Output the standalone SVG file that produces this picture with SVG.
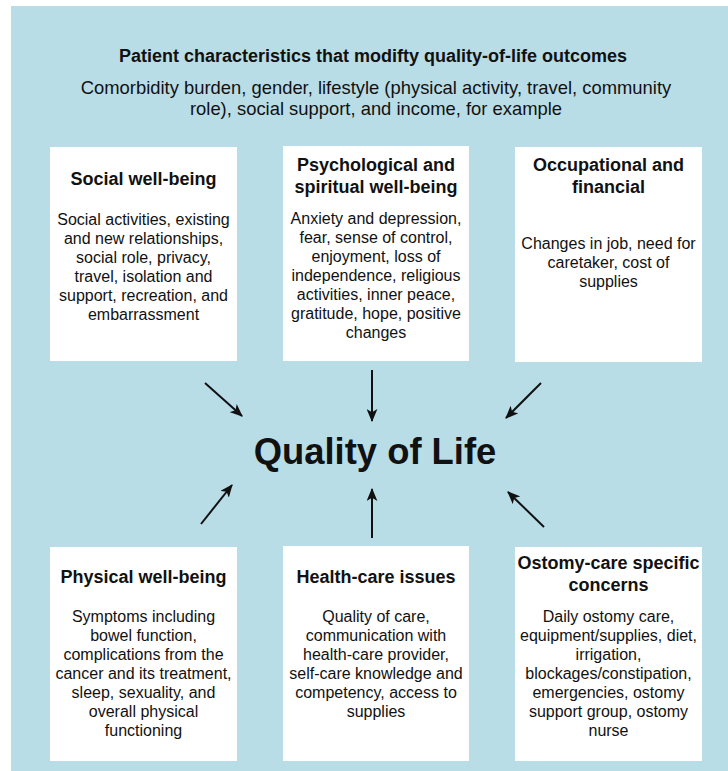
<svg xmlns="http://www.w3.org/2000/svg" width="728" height="771" viewBox="0 0 728 771">
  <defs>
    <style>
      .bg { fill: #b9dde7; }
      .box { fill: #ffffff; }
      text { font-family: "Liberation Sans", Arial, Helvetica, sans-serif; fill: #111111; text-anchor: middle; }
      .head { font-size: 18px; font-weight: bold; }
      .sub { font-size: 18.4px; }
      .ttl { font-size: 18px; font-weight: bold; }
      .body { font-size: 16px; }
      .qol { font-size: 36.4px; font-weight: bold; }
      .arrow { stroke: #111111; stroke-width: 2; fill: none; marker-end: url(#head); }
    </style>
    <marker id="head" viewBox="0 0 12 10" refX="11" refY="5" markerWidth="6.5" markerHeight="5.5" orient="auto" markerUnits="strokeWidth">
      <path d="M0,0 L12,5 L0,10 L3,5 Z" fill="#111111"/>
    </marker>
  </defs>

  <rect width="728" height="771" fill="#ffffff"/>
  <rect class="bg" x="11" y="6" width="717" height="765"/>

  <g id="header">
    <text class="head" x="373" y="62">Patient characteristics that modifty quality-of-life outcomes</text>
    <text class="sub" x="376" y="94">Comorbidity burden, gender, lifestyle (physical activity, travel, community</text>
    <text class="sub" x="376" y="115">role), social support, and income, for example</text>
  </g>

  <g id="social">
    <rect class="box" x="50" y="147" width="187" height="214"/>
    <text class="ttl" x="143.5" y="185">Social well-being</text>
    <text class="body" x="143.5" y="225">Social activities, existing</text>
    <text class="body" x="143.5" y="244">and new relationships,</text>
    <text class="body" x="143.5" y="263">social role, privacy,</text>
    <text class="body" x="143.5" y="282">travel, isolation and</text>
    <text class="body" x="143.5" y="301">support, recreation, and</text>
    <text class="body" x="143.5" y="320">embarrassment</text>
  </g>

  <g id="psychological">
    <rect class="box" x="283" y="146" width="186" height="215"/>
    <text class="ttl" x="376" y="171">Psychological and</text>
    <text class="ttl" x="376" y="193">spiritual well-being</text>
    <text class="body" x="376" y="224">Anxiety and depression,</text>
    <text class="body" x="376" y="243">fear, sense of control,</text>
    <text class="body" x="376" y="262">enjoyment, loss of</text>
    <text class="body" x="376" y="281">independence, religious</text>
    <text class="body" x="376" y="300">activities, inner peace,</text>
    <text class="body" x="376" y="319">gratitude, hope, positive</text>
    <text class="body" x="376" y="338">changes</text>
  </g>

  <g id="occupational">
    <rect class="box" x="515" y="147" width="187" height="215"/>
    <text class="ttl" x="608.5" y="171">Occupational and</text>
    <text class="ttl" x="608.5" y="193">financial</text>
    <text class="body" x="608.5" y="249">Changes in job, need for</text>
    <text class="body" x="608.5" y="268">caretaker, cost of</text>
    <text class="body" x="608.5" y="287">supplies</text>
  </g>

  <g id="quality-of-life">
    <text class="qol" x="375" y="464">Quality of Life</text>
  </g>

  <g id="physical">
    <rect class="box" x="50" y="547" width="187" height="214"/>
    <text class="ttl" x="143.5" y="583">Physical well-being</text>
    <text class="body" x="143.5" y="622">Symptoms including</text>
    <text class="body" x="143.5" y="641">bowel function,</text>
    <text class="body" x="143.5" y="660">complications from the</text>
    <text class="body" x="143.5" y="679">cancer and its treatment,</text>
    <text class="body" x="143.5" y="698">sleep, sexuality, and</text>
    <text class="body" x="143.5" y="717">overall physical</text>
    <text class="body" x="143.5" y="736">functioning</text>
  </g>

  <g id="health-care">
    <rect class="box" x="283" y="546" width="186" height="215"/>
    <text class="ttl" x="376" y="583">Health-care issues</text>
    <text class="body" x="376" y="622">Quality of care,</text>
    <text class="body" x="376" y="641">communication with</text>
    <text class="body" x="376" y="660">health-care provider,</text>
    <text class="body" x="376" y="679">self-care knowledge and</text>
    <text class="body" x="376" y="698">competency, access to</text>
    <text class="body" x="376" y="717">supplies</text>
  </g>

  <g id="ostomy">
    <rect class="box" x="515" y="547" width="187" height="214"/>
    <text class="ttl" x="608.5" y="569">Ostomy-care specific</text>
    <text class="ttl" x="608.5" y="591">concerns</text>
    <text class="body" x="608.5" y="622">Daily ostomy care,</text>
    <text class="body" x="608.5" y="641">equipment/supplies, diet,</text>
    <text class="body" x="608.5" y="660">irrigation,</text>
    <text class="body" x="608.5" y="679">blockages/constipation,</text>
    <text class="body" x="608.5" y="698">emergencies, ostomy</text>
    <text class="body" x="608.5" y="717">support group, ostomy</text>
    <text class="body" x="608.5" y="736">nurse</text>
  </g>

  <g id="connectors">
    <line class="arrow" x1="205" y1="383" x2="242" y2="416"/>
    <line class="arrow" x1="372" y1="370" x2="372" y2="421"/>
    <line class="arrow" x1="541" y1="383" x2="506" y2="418"/>
    <line class="arrow" x1="201" y1="524" x2="232" y2="485"/>
    <line class="arrow" x1="372" y1="538" x2="372" y2="489"/>
    <line class="arrow" x1="544" y1="527" x2="508" y2="492"/>
  </g>
</svg>
